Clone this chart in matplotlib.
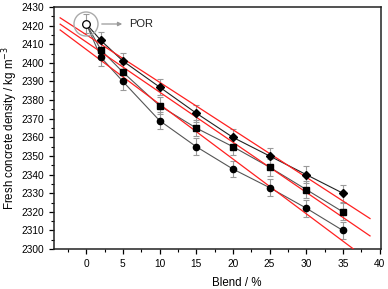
import numpy as np
import matplotlib
matplotlib.use('Agg')
import matplotlib.pyplot as plt
from matplotlib.patches import Circle

plt.rcParams['font.family'] = ['Liberation Sans', 'DejaVu Sans']

# reference concrete (POR)
por_x = 0
por_y = 2421
por_err = 5

blend = [2, 5, 10, 15, 20, 25, 30, 35]
dens_a = [2412, 2401, 2387, 2373, 2360, 2350, 2340, 2330]   # diamonds
dens_b = [2407, 2395, 2377, 2365, 2355, 2344, 2332, 2320]   # squares
dens_c = [2403, 2390, 2369, 2355, 2343, 2333, 2322, 2310]   # circles
err = [4.5, 4.5, 4.5, 4.5, 4.5, 4.5, 4.5, 4.5]

# red trend lines (slope, intercept)
fit_slope = [-2.55, -2.69, -2.94]
fit_icpt = [2415.1, 2411.2, 2407.2]
fit_range = [-3.55, 38.7]

fig = plt.figure(figsize=(3.88, 2.89), dpi=100)
ax = fig.add_axes([0.139, 0.138, 0.843, 0.838])

series = [(dens_a, 'D', '#222222', 4.0),
          (dens_b, 's', '#555555', 4.0),
          (dens_c, 'o', '#555555', 4.5)]
for ys, mk, lc, ms in series:
    xs = [por_x] + blend
    yy = [por_y] + ys
    ax.plot(xs, yy, color=lc, lw=0.8, zorder=3)
    ax.errorbar(blend, ys, yerr=err, fmt='none', ecolor='#9a9a9a',
                elinewidth=0.8, capsize=2.5, capthick=0.8, zorder=2)
    ax.plot(blend, ys, marker=mk, ls='none', color='black', ms=ms, zorder=5)

ax.errorbar([por_x], [por_y], yerr=[por_err], fmt='none', ecolor='#9a9a9a',
            elinewidth=0.8, capsize=2.5, capthick=0.8, zorder=2)
ax.plot([por_x], [por_y], marker='o', ms=5.5, mfc='white', mec='black',
        mew=0.9, ls='none', zorder=6)

xf = np.array(fit_range)
for s, b in zip(fit_slope, fit_icpt):
    ax.plot(xf, s * xf + b, color='#ff2020', lw=0.9, zorder=4)

# grey circle + arrow for POR
ax.add_patch(Circle((86, 265), 12, transform=None, fill=False,
                    ec='#aaaaaa', lw=1.0, zorder=6))
ax.annotate('', xy=(125, 265), xycoords='figure pixels',
            xytext=(99, 265), textcoords='figure pixels',
            arrowprops=dict(arrowstyle='-|>', color='#999999', lw=0.9,
                            mutation_scale=6))
ax.text(129, 265, 'POR', transform=None, fontsize=8, va='center',
        ha='left', color='#222222')

ax.set_xlim(-4.4, 40.2)
ax.set_ylim(2300, 2430)
ax.set_xticks(np.arange(0, 41, 5))
ax.set_xticks(np.arange(-2.5, 40, 2.5), minor=True)
ax.set_yticks(np.arange(2300, 2431, 10))
ax.set_yticks(np.arange(2305, 2430, 5), minor=True)
ax.tick_params(which='major', direction='out', length=3.5, width=0.9,
               labelsize=7.3, top=False, right=False)
ax.tick_params(which='minor', direction='out', length=2, width=0.8,
               top=False, right=False)
for sp in ax.spines.values():
    sp.set_linewidth(1.1)
    sp.set_color('#222222')

ax.set_xlabel('Blend / %', fontsize=8.3)
ax.xaxis.set_label_coords(0.56, -0.115)
ax.set_ylabel('Fresh concrete density / kg m$^{-3}$', fontsize=8.3)
ax.yaxis.set_label_coords(-0.104, 0.5)

fig.savefig('out.png', dpi=100)
